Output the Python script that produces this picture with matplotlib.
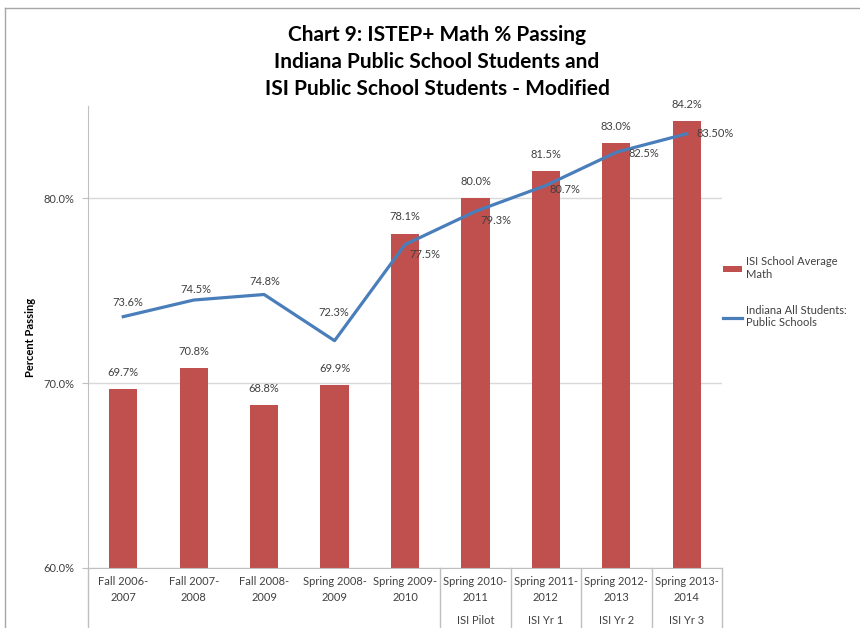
import matplotlib
matplotlib.use("Agg")
import matplotlib.pyplot as plt
from matplotlib.lines import Line2D
from matplotlib.patches import Patch
from matplotlib.ticker import FuncFormatter, MultipleLocator

plt.rcParams['font.family'] = ['Lato', 'DejaVu Sans']

categories = ["Fall 2006-\n2007", "Fall 2007-\n2008", "Fall 2008-\n2009", "Spring 2008-\n2009",
              "Spring 2009-\n2010", "Spring 2010-\n2011", "Spring 2011-\n2012", "Spring 2012-\n2013",
              "Spring 2013-\n2014"]
groups = ["", "", "", "", "", "ISI Pilot", "ISI Yr 1", "ISI Yr 2", "ISI Yr 3"]
isi_values = [69.7, 70.8, 68.8, 69.9, 78.1, 80.0, 81.5, 83.0, 84.2]
indiana_values = [73.6, 74.5, 74.8, 72.3, 77.5, 79.3, 80.7, 82.5, 83.5]
indiana_labels = ["73.6%", "74.5%", "74.8%", "72.3%", "77.5%", "79.3%", "80.7%", "82.5%", "83.50%"]
series_names = ["ISI School Average\nMath", "Indiana All Students:\nPublic Schools"]

bar_color = "#C0504D"
line_color = "#4A7EBB"
W, H = 860, 628

fig = plt.figure(figsize=(W / 100, H / 100), dpi=100)
ax = fig.add_axes([88 / W, 1 - 568 / H, (722 - 88) / W, (568 - 106) / H])

x = list(range(len(categories)))
ax.bar(x, isi_values, width=0.4, color=bar_color, zorder=2)
ax.plot(x, indiana_values, color=line_color, lw=2.3, zorder=3, solid_joinstyle='round')

ax.set_xlim(-0.5, len(categories) - 0.5)
ax.set_ylim(60, 85)
ax.yaxis.set_major_locator(MultipleLocator(10))
ax.yaxis.set_major_formatter(FuncFormatter(lambda v, p: f"{v:.1f}%"))
ax.grid(axis='y', color='#D9D9D9', lw=1, zorder=0)
for s in ['top', 'right']:
    ax.spines[s].set_visible(False)
ax.spines['left'].set_color('#BFBFBF')
ax.spines['bottom'].set_color('#BFBFBF')
ax.tick_params(axis='y', length=4, color='#BFBFBF', labelsize=8, labelcolor='#404040', pad=6)
ax.set_xticks(x)
ax.set_xticklabels(categories, fontsize=8, color='#404040', linespacing=1.5)
ax.tick_params(axis='x', length=0, pad=6)
ax.set_ylabel("Percent Passing", fontsize=8, fontweight='bold', labelpad=5)

# bar labels
for xi, v in zip(x, isi_values):
    ax.annotate(f"{v:.1f}%", (xi, v), xytext=(0, 12), textcoords='offset points',
                ha='center', va='center', fontsize=8, color='#404040')

# line labels offsets (pixels)
offs = [(5, -14), (2, -11), (1, -13), (-1, -28), (20, 10), (20, 9), (19, 4), (28, 1), (10, 0)]
for xi, v, lab, (dx, dy) in zip(x, indiana_values, indiana_labels, offs):
    ha = 'left' if lab == "83.50%" else 'center'
    ax.annotate(lab, (xi, v), xytext=(dx * 0.72, -dy * 0.72), textcoords='offset points',
                ha=ha, va='center', fontsize=8, color='#404040')

# second level category labels and separators
trans = ax.get_xaxis_transform()
for xi, g in zip(x, groups):
    if g:
        ax.text(xi, -(620 - 568) / (568 - 106), g, transform=trans, ha='center', va='center',
                fontsize=8, color='#404040', clip_on=False)
for b in [-0.5, 4.5, 5.5, 6.5, 7.5, 8.5]:
    ax.add_line(Line2D([b, b], [0, -0.2], transform=trans, color='#BFBFBF', lw=1, clip_on=False))

# title
fig.text(437 / W, 1 - 62 / H, "Chart 9: ISTEP+ Math % Passing\nIndiana Public School Students and\nISI Public School Students - Modified",
         ha='center', va='center', fontsize=15, fontweight='bold', linespacing=1.45)

# legend
handles = [Patch(facecolor=bar_color), Line2D([0], [0], color=line_color, lw=2.3)]
fig.legend(handles, series_names, loc='upper left', bbox_to_anchor=(719 / W, 1 - 252 / H),
           frameon=False, fontsize=8, handlelength=1.7, handleheight=0.5, handletextpad=0.3,
           labelspacing=2.2, labelcolor='#404040', borderaxespad=0)

# outer border
fig.add_artist(Line2D([5 / W, 1], [1 - 8 / H, 1 - 8 / H], transform=fig.transFigure, color='#A6A6A6', lw=1))
fig.add_artist(Line2D([5 / W, 5 / W], [0, 1 - 8 / H], transform=fig.transFigure, color='#A6A6A6', lw=1))

fig.savefig("out.png", dpi=100)
